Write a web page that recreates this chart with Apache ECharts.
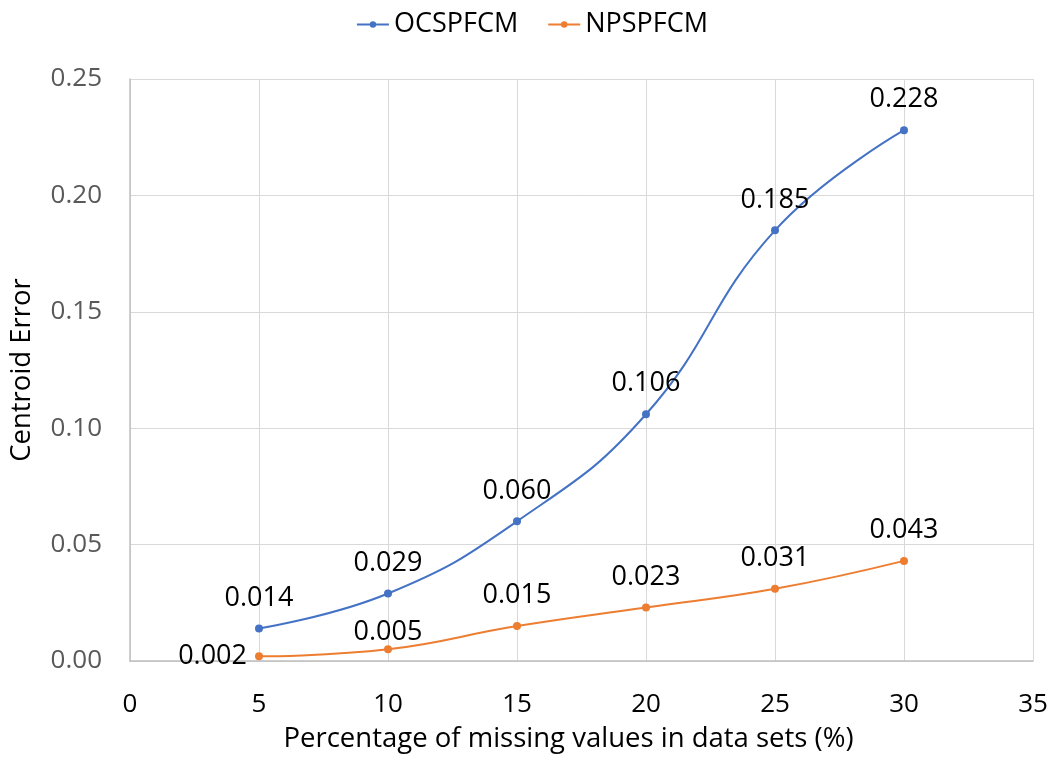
<!DOCTYPE html>
<html lang="en">
<head>
  <meta charset="UTF-8">
  <title>Centroid Error</title>
  <style>
    html, body { margin: 0; padding: 0; background: #fff; }
    #echart { width: 1064px; height: 770px; }
  </style>
</head>
<body>
  <div id="echart"></div>
  <script src="https://cdn.jsdelivr.net/npm/echarts@6/dist/echarts.min.js"></script>
  <script>
    // percentage of missing values
    var missing = [5, 10, 15, 20, 25, 30];
    // centroid error per method
    var ocspfcm = [0.014, 0.029, 0.060, 0.106, 0.185, 0.228];
    var npspfcm = [0.002, 0.005, 0.015, 0.023, 0.031, 0.043];

    var font = '"Open Sans", sans-serif';

    function pairs(xs, ys) {
      return xs.map(function (x, i) { return [x, ys[i]]; });
    }

    var labelStyle = {
      show: true,
      position: 'top',
      distance: 13,
      fontSize: 27,
      fontFamily: font,
      color: '#000',
      formatter: function (p) { return p.value[1].toFixed(3); }
    };

    var npData = pairs(missing, npspfcm);
    // first orange label sits left of its point, second one hugs the line
    npData[0] = { value: npData[0], label: { position: 'left', distance: 8 } };
    npData[1] = { value: npData[1], label: { distance: 0 } };

    var option = {
      animation: false,
      color: ['#4472C4', '#ED7D31'],
      legend: {
        top: 6,
        left: 'center',
        itemWidth: 32,
        itemHeight: 8,
        itemGap: 29,
        textStyle: { fontSize: 27, fontFamily: font, color: '#000' },
        data: ['OCSPFCM', 'NPSPFCM']
      },
      grid: { left: 130, right: 31, top: 79, bottom: 109, outerBoundsMode: 'none', containLabel: false },
      xAxis: {
        type: 'value',
        min: 0,
        max: 35,
        interval: 5,
        name: 'Percentage of missing values in data sets (%)',
        nameLocation: 'middle',
        nameGap: 64,
        nameTextStyle: { fontSize: 27.5, fontFamily: font, color: '#000', padding: [0, 26, 0, 0] },
        axisLine: { show: true, lineStyle: { color: '#bfbfbf', width: 1.5 } },
        axisTick: { show: false },
        axisLabel: { fontSize: 26, fontFamily: font, color: '#000', margin: 31 },
        splitLine: { show: true, lineStyle: { color: '#d9d9d9' } }
      },
      yAxis: {
        type: 'value',
        min: 0,
        max: 0.25,
        interval: 0.05,
        name: 'Centroid Error',
        nameLocation: 'middle',
        nameGap: 94,
        nameTextStyle: { fontSize: 27.5, fontFamily: font, color: '#000' },
        axisLine: { show: true, lineStyle: { color: '#bfbfbf', width: 1.5 } },
        axisTick: { show: false },
        axisLabel: {
          fontSize: 26, fontFamily: font, color: '#595959', margin: 28,
          formatter: function (v) { return v.toFixed(2); }
        },
        splitLine: { show: true, lineStyle: { color: '#d9d9d9' } }
      },
      series: [
        {
          name: 'OCSPFCM',
          type: 'line',
          smooth: 0.45,
          symbol: 'circle',
          symbolSize: 8,
          lineStyle: { width: 2 },
          label: labelStyle,
          data: pairs(missing, ocspfcm)
        },
        {
          name: 'NPSPFCM',
          type: 'line',
          smooth: 0.45,
          symbol: 'circle',
          symbolSize: 8,
          lineStyle: { width: 2 },
          label: labelStyle,
          data: npData
        }
      ]
    };

    var myChart = echarts.init(document.getElementById('echart'));
    myChart.setOption(option);
  </script>
</body>
</html>
